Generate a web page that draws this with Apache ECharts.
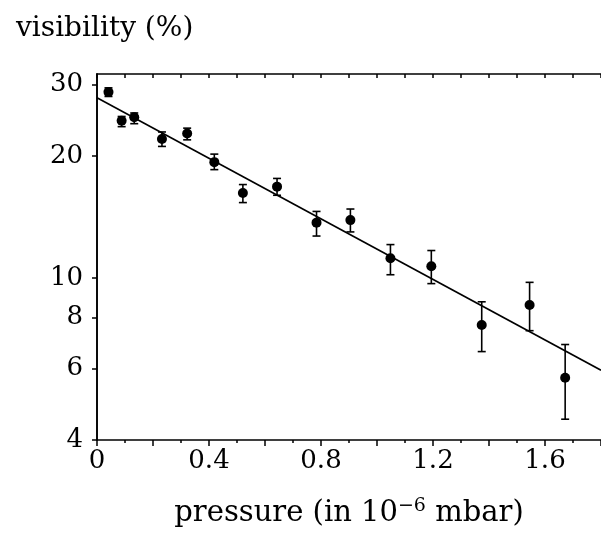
<!DOCTYPE html>
<html>
<head>
<meta charset="utf-8">
<script src="https://cdn.jsdelivr.net/npm/echarts@6/dist/echarts.min.js"></script>
<style>html,body{margin:0;padding:0;background:#fff;}#c{width:601px;height:536px;}</style>
</head>
<body>
<div id="c"></div>
<script>
const pressure = [0.041,0.088,0.133,0.232,0.322,0.419,0.521,0.643,0.784,0.905,1.048,1.194,1.374,1.545,1.672];
const visibility = [28.7,24.4,24.9,22.0,22.7,19.3,16.2,16.8,13.7,13.9,11.2,10.7,7.67,8.59,5.69];
const errLow = [28.0,23.6,24.0,21.1,21.9,18.5,15.35,16.0,12.7,13.0,10.2,9.7,6.6,7.43,4.5];
const errHigh = [29.4,25.0,25.5,22.9,23.4,20.2,17.0,17.6,14.6,14.8,12.1,11.7,8.75,9.77,6.87];
const fitX = [0, 1.8];
const fitY = [27.8, 5.94];
const yTickValues = [4,6,8,10,20,30];
const xLabelValues = [0,0.4,0.8,1.2,1.6];

const font = 'DejaVu Serif';
const chart = echarts.init(document.getElementById('c'), null, {renderer:'canvas'});
const pts = pressure.map((x,i)=>[x, visibility[i]]);
const errs = pressure.map((x,i)=>[x, errLow[i], errHigh[i]]);
const fit = fitX.map((x,i)=>[x, fitY[i]]);
const axisLine = {show:true, lineStyle:{color:'#000', width:1.6}};

chart.setOption({
  animation:false,
  backgroundColor:'#fff',
  title:{text:'visibility (%)', left:11, top:10, textStyle:{fontFamily:font, fontSize:28, fontWeight:'normal', color:'#000'}},
  grid:{left:97, right:-3, top:74, bottom:96},
  xAxis:[{
    type:'value', position:'bottom', min:0, max:1.8, interval:0.2,
    axisLine, splitLine:{show:false},
    axisTick:{show:true, inside:false, length:6, lineStyle:{color:'#000', width:1.5}},
    minorTick:{show:true, splitNumber:2, length:3, lineStyle:{color:'#000', width:1.5}},
    axisLabel:{customValues:xLabelValues, margin:8, fontFamily:font, fontSize:26, color:'#000'},
    name:'pressure (in 10{sup|−6} mbar)', nameLocation:'middle', nameGap:57,
    nameTextStyle:{fontFamily:font, fontSize:29, color:'#000', rich:{sup:{fontFamily:font, fontSize:19, color:'#000', verticalAlign:'top', padding:[0,0,14,0]}}}
  },{
    type:'value', position:'top', min:0, max:1.8, interval:0.1,
    axisLine, splitLine:{show:false},
    axisTick:{show:true, inside:true, length:4, lineStyle:{color:'#000', width:1.5}},
    axisLabel:{show:false}
  }],
  yAxis:[{
    type:'log', logBase:10, min:4, max:31.8, position:'left',
    axisLine, splitLine:{show:false}, minorTick:{show:false},
    axisTick:{show:true, inside:false, length:4, customValues:yTickValues, lineStyle:{color:'#000', width:1.5}},
    axisLabel:{customValues:yTickValues, margin:14, fontFamily:font, fontSize:26, color:'#000'}
  },{
    type:'log', logBase:10, min:4, max:31.8, position:'right',
    axisLine, splitLine:{show:false}, minorTick:{show:false},
    axisTick:{show:true, inside:true, length:5, customValues:yTickValues, lineStyle:{color:'#000', width:1.5}},
    axisLabel:{show:false}
  }],
  series:[{
    type:'line', data:fit, xAxisIndex:0, yAxisIndex:0, showSymbol:false, symbol:'none',
    lineStyle:{color:'#000', width:1.6}, z:2
  },{
    type:'custom', xAxisIndex:0, yAxisIndex:0, data:errs, z:3,
    renderItem:function(params, api){
      const x = api.value(0);
      const lo = api.coord([x, api.value(1)]);
      const hi = api.coord([x, api.value(2)]);
      const w = 4;
      const st = {stroke:'#000', lineWidth:1.6};
      return {type:'group', children:[
        {type:'line', shape:{x1:lo[0], y1:lo[1], x2:hi[0], y2:hi[1]}, style:st},
        {type:'line', shape:{x1:lo[0]-w, y1:lo[1], x2:lo[0]+w, y2:lo[1]}, style:st},
        {type:'line', shape:{x1:hi[0]-w, y1:hi[1], x2:hi[0]+w, y2:hi[1]}, style:st}
      ]};
    }
  },{
    type:'scatter', data:pts, xAxisIndex:0, yAxisIndex:0, symbol:'circle', symbolSize:10,
    itemStyle:{color:'#000', opacity:1}, z:4
  }]
});
</script>
</body>
</html>
